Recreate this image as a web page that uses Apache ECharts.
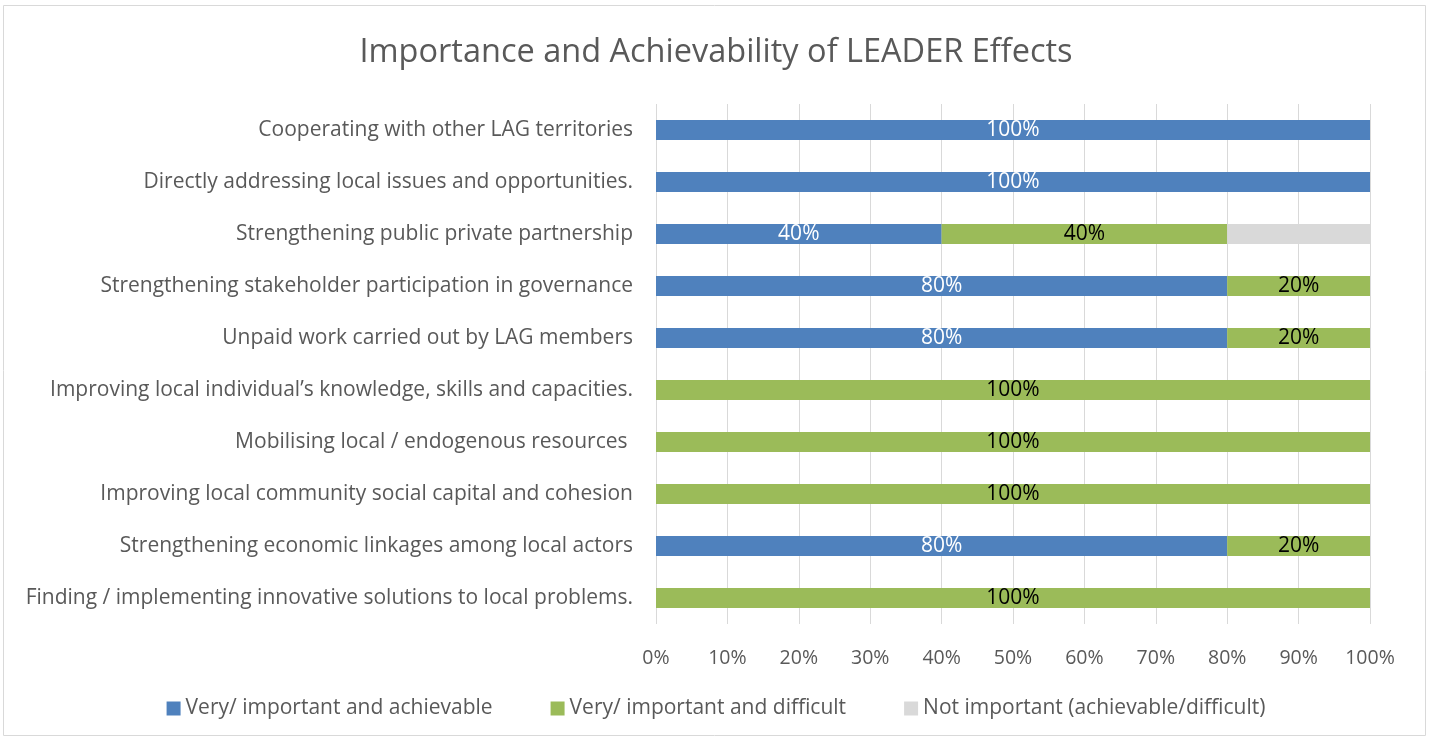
<!DOCTYPE html>
<html><head><meta charset="utf-8">
<script src="https://cdn.jsdelivr.net/npm/echarts@6/dist/echarts.min.js"></script>
<style>html,body{margin:0;padding:0;background:#fff}#c{width:1432px;height:740px}</style>
</head><body><div id="c"></div>
<script>
const categories = [
  "Cooperating with other LAG territories",
  "Directly addressing local issues and opportunities.",
  "Strengthening public private partnership",
  "Strengthening stakeholder participation in governance",
  "Unpaid work carried out by LAG members",
  "Improving local individual\u2019s knowledge, skills and capacities.",
  "Mobilising local / endogenous resources ",
  "Improving local community social capital and cohesion",
  "Strengthening economic linkages among local actors",
  "Finding / implementing innovative solutions to local problems."
];
const achievable = [100,100,40,80,80,0,0,0,80,0];
const difficult  = [0,0,40,20,20,100,100,100,20,100];
const notImportant = [0,0,20,0,0,0,0,0,0,0];
const seriesNames = ["Very/ important and achievable","Very/ important and difficult","Not important (achievable/difficult)"];
const xTicks = [0,10,20,30,40,50,60,70,80,90,100];

const FONT = "Open Sans";
const chart = echarts.init(document.getElementById('c'));
function lbl(color, show){
  return {show: show, color: color, fontFamily: FONT, fontSize: 21,
    formatter: p => p.value > 0 ? p.value + '%' : ''};
}
chart.setOption({
  animation: false,
  graphic: [{type:'rect', shape:{x:3.5,y:5.5,width:1422,height:730}, style:{fill:'none', stroke:'#d9d9d9', lineWidth:1}}],
  title: {text: "Importance and Achievability of LEADER Effects", left: 'center', top: 31,
    textStyle: {fontFamily: FONT, fontSize: 32.5, fontWeight: 'normal', color: '#595959'}},
  legend: {bottom: 16, left: 'center', itemWidth: 14, itemHeight: 14, itemGap: 58, icon: 'rect',
    textStyle: {fontFamily: FONT, fontSize: 21, color: '#595959'}, data: seriesNames},
  grid: {left: 656, right: 62, top: 104, bottom: 116, containLabel: false},
  xAxis: {type: 'value', min: 0, max: 100, interval: 10,
    axisLabel: {formatter: v => xTicks.includes(v) ? v + '%' : '', fontFamily: FONT, fontSize: 19.5, color: '#595959', margin: 24},
    splitLine: {lineStyle: {color: '#d9d9d9', width: 1}}, axisLine: {show: false}, axisTick: {show: false}},
  yAxis: {type: 'category', inverse: true, data: categories,
    axisLabel: {fontFamily: FONT, fontSize: 21, color: '#595959', margin: 23},
    axisLine: {show: false}, axisTick: {show: false}},
  series: [
    {name: seriesNames[0], type: 'bar', stack: 's', data: achievable, barWidth: 20,
      itemStyle: {color: '#4f81bd'}, label: lbl('#ffffff', true)},
    {name: seriesNames[1], type: 'bar', stack: 's', data: difficult, barWidth: 20,
      itemStyle: {color: '#9bbb59'}, label: lbl('#000000', true)},
    {name: seriesNames[2], type: 'bar', stack: 's', data: notImportant, barWidth: 20,
      itemStyle: {color: '#d9d9d9'}, label: {show: false}}
  ]
});
</script></body></html>
